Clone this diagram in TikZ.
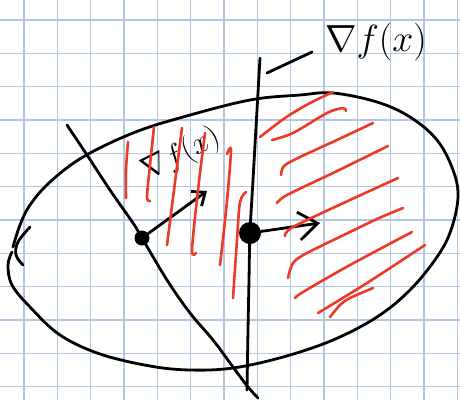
\documentclass[tikz,border=0pt]{standalone}
\usepackage{graphicx}
\usetikzlibrary{arrows.meta}
\definecolor{gridblue}{RGB}{180,199,226}
\definecolor{penred}{RGB}{236,58,38}
\begin{document}
\begin{tikzpicture}[x=1pt,y=-1pt,
  pen/.style={line width=2.8pt,line cap=round,line join=round},
  blackpen/.style={pen,draw=black},
  redpen/.style={pen,draw=penred,line width=2.6pt},
  gridline/.style={draw=gridblue,line width=1.5pt},
  dotnode/.style={circle,fill=black,inner sep=0pt},
  txt/.style={inner sep=0pt,font=\fontsize{24.88}{30}\selectfont}]
\fill[white] (0,0) rectangle (460,400);
\useasboundingbox (0,0) rectangle (460,400);
% grid paper
\foreach \k in {0,...,13} \draw[gridline] ({24+33.33*\k},0) -- ({24+33.33*\k},400);
\foreach \k in {0,...,11} \draw[gridline] (0,{20+33.33*\k}) -- (460,{20+33.33*\k});
% closed curve
\draw[blackpen] plot[smooth,tension=0.6] coordinates {
  (13,247) (20,225) (30,205) (50,182) (83,157) (133,133) (183,117) (250,100)
  (300,95) (333,93) (377,102) (410,117) (437,140) (453,170) (458,197) (451,230)
  (437,257) (410,290) (377,317) (333,340) (283,357) (233,368) (190,370) (150,366)
  (100,354) (60,335) (30,307) (12,285) (8,265) (12,252)};
\draw[blackpen] plot[smooth,tension=0.6] coordinates {(30,227) (18,242) (16,255) (23,265)};
% dots
\node[dotnode,minimum size=15pt] (d1) at (142,238) {};
\node[dotnode,minimum size=22pt] (d2) at (250,233) {};
% lines through the dots
\draw[blackpen] plot[smooth,tension=0.6] coordinates {(67,125) (87,155) (110,190) (133,223) (142,238)
  (167,280) (190,313) (213,340) (233,367) (248,387) (258,398)};
\draw[blackpen] plot[smooth,tension=0.6] coordinates {(260,58) (257,110) (253,180) (250,233)
  (249,280) (248,330) (247,390)};
% arrows
\coordinate (t1) at (207,191);
\coordinate (t2) at (320,223);
\draw[blackpen,-{Straight Barb[length=11pt,width=18pt]}] (d1) -- (t1);
\draw[blackpen,-{Straight Barb[length=19pt,width=28pt]}] (d2) -- (t2);
% labels
\node[txt] (lab1) at (376,42) {\scalebox{1.52}{$\nabla f(x)$}};
\coordinate (c1) at (267,73);
\coordinate (c2) at (312,52);
\draw[blackpen] (c1) -- (c2);
\node[txt,rotate=27] (lab2) at (181,155) {\scalebox{1.25}{$\nabla f(x)$}};
% red hatching, middle
\draw[redpen] plot[smooth] coordinates {(128,142) (126,170) (126,198)};
\draw[redpen] plot[smooth] coordinates {(154,127) (150,165) (147,197) (150,201)};
\draw[redpen] plot[smooth] coordinates {(182,128) (174,190) (167,245)};
\draw[redpen] plot[smooth] coordinates {(205,133) (198,190) (192,250) (196,253)};
\draw[redpen] plot[smooth] coordinates {(227,154) (231,149) (228,190) (224,230) (220,265)};
\draw[redpen] plot[smooth] coordinates {(246,192) (240,202) (237,240) (233,298)};
% red hatching, right
\draw[redpen] plot[smooth] coordinates {(260,137) (285,118) (310,103) (333,92)};
\draw[redpen] plot[smooth] coordinates {(272,140) (293,133) (327,113) (343,108) (346,111)};
\draw[redpen] plot[smooth] coordinates {(281,175) (284,166) (300,157) (337,140) (373,123)};
\draw[redpen] plot[smooth] coordinates {(277,203) (287,195) (333,173) (388,146)};
\draw[redpen] plot[smooth] coordinates {(285,236) (293,227) (350,200) (398,178)};
\draw[redpen] plot[smooth] coordinates {(288,278) (293,263) (307,253) (350,232) (377,219) (403,208)};
\draw[redpen] plot[smooth] coordinates {(295,298) (303,292) (350,265) (412,232)};
\draw[redpen] plot[smooth] coordinates {(318,313) (367,283) (425,245)};
\draw[redpen] plot[smooth] coordinates {(330,317) (340,305) (350,298) (373,288)};
\end{tikzpicture}
\end{document}
